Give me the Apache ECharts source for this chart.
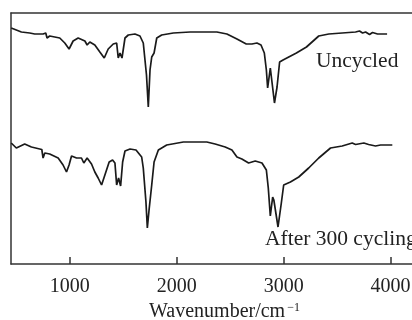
<!DOCTYPE html>
<html>
<head>
<meta charset="utf-8">
<script src="https://cdn.jsdelivr.net/npm/echarts@6/dist/echarts.min.js"></script>
<style>html,body{margin:0;padding:0;background:#fff}#c{width:412px;height:320px}</style>
</head>
<body>
<div id="c"></div>
<script>
// Wavenumber (cm^-1) and transmittance (a.u.)
var uncycledWn = [452,547,625,672,750,775,787,812,906,953,993,1031,1078,1141,1162,1187,1234,1281,1322,1359,1406,1438,1453,1469,1488,1506,1516,1547,1609,1656,1687,1717,1734,1750,1766,1788,1813,1859,1968,2125,2375,2469,2563,2650,2703,2750,2788,2819,2838,2850,2875,2891,2914,2938,2962,2994,3119,3213,3328,3422,3672,3709,3738,3766,3803,3831,3878,3967];
var uncycledT = [236,232,231,230,230,231,226,228,226,221,215,223,226,223,219,222,219,212,206,215,220,221,206,211,206,207,226,229,230,228,221,189,157,194,207,211,226,229,231,232,232,230,225,220,220,221,219,211,194,176,196,196,161,177,202,204,211,217,228,230,232,233,231,232,229.5,231.5,230,230];
var cycledWn = [452,500,578,641,719,738,750,766,812,891,937,969,993,1016,1063,1109,1131,1162,1203,1234,1265,1297,1328,1368,1400,1422,1438,1456,1475,1494,1516,1563,1619,1672,1687,1712,1725,1741,1766,1788,1828,1906,2062,2281,2359,2453,2516,2563,2609,2672,2734,2797,2838,2856,2875,2897,2908,2947,2978,3000,3063,3141,3234,3328,3438,3547,3641,3672,3750,3794,3859,3906,4016];
var cycledT = [121,116,120,117,115,114.5,106,111,110,106,99,92,99,108,106,106,101,106,100,92,86,79,89,102,104,101,79,86,78,102,113,115,114,107,96,62,36,54,79,102,114,119,122,122,120,117,114,107,105,101,103,101,94,76,48,67,64,37,61,79,82,87,96,106,116,118,121,119.5,121,119.5,118,119,119];
var xTicks = [1000,2000,3000,4000];
var labels = ['Uncycled','After 300 cycling'];

function pairs(xs, ys){ return xs.map(function(x,i){return [x, ys[i]];}); }

var chart = echarts.init(document.getElementById('c'));
var font = 'Liberation Serif, Times New Roman, serif';
var axisLine = {show:true, lineStyle:{color:'#333', width:1.5}};
chart.setOption({
  animation:false,
  grid:{left:11, right:0, top:13, bottom:56, containLabel:false, outerBoundsMode:'none'},
  xAxis:[{
    type:'value', min:450, max:4200, interval:1000,
    axisLine:axisLine,
    axisTick:{show:true, inside:true, length:7, lineStyle:{color:'#333', width:1.5},
      customValues: xTicks},
    axisLabel:{color:'#222', fontFamily:font, fontSize:20, margin:13,
      customValues: xTicks, formatter:function(v){return String(v);}},
    splitLine:{show:false},
    name:'{a|Wavenumber/cm}{b|−1}',
    nameLocation:'middle', nameGap:37,
    nameTextStyle:{color:'#222', fontFamily:font, fontSize:20, padding:[0,0,0,26],
      rich:{a:{fontFamily:font, fontSize:20, color:'#222', lineHeight:20, verticalAlign:'bottom'},
            b:{fontFamily:font, fontSize:12, color:'#222', lineHeight:20, verticalAlign:'top', padding:[0,0,0,2]}}}
  },{
    type:'value', position:'top', min:450, max:4200,
    axisLine:axisLine, axisTick:{show:false}, axisLabel:{show:false}, splitLine:{show:false}
  }],
  yAxis:{type:'value', min:0, max:251, axisLine:axisLine, axisTick:{show:false},
    axisLabel:{show:false}, splitLine:{show:false}},
  series:[
    {type:'line', data:pairs(uncycledWn, uncycledT), showSymbol:false, smooth:false,
      lineStyle:{color:'#1a1a1a', width:1.7}},
    {type:'line', data:pairs(cycledWn, cycledT), showSymbol:false, smooth:false,
      lineStyle:{color:'#1a1a1a', width:1.7}}
  ],
  graphic:[
    {type:'text', left:316, top:50, style:{text:labels[0], font:'21.5px '+font, fill:'#222'}},
    {type:'text', left:265, top:228, style:{text:labels[1], font:'21.5px '+font, fill:'#222'}}
  ]
});
</script>
</body>
</html>
